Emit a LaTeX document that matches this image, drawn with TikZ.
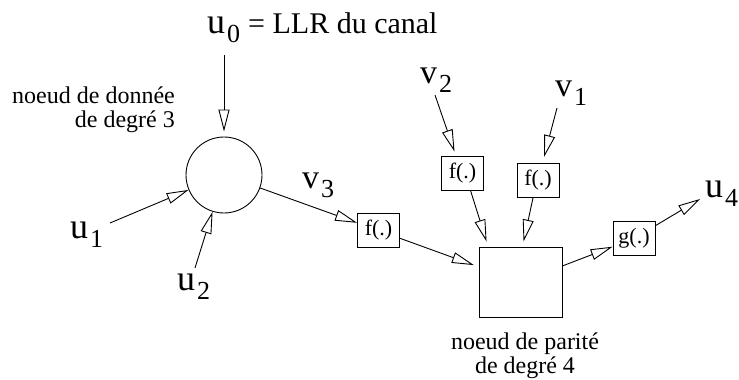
\documentclass[tikz,border=0pt]{standalone}
\usepackage{fontspec}
\setmainfont{Liberation Serif}
\usepackage{tikz}
\usetikzlibrary{arrows.meta,positioning,calc}

% lettre + indice
\newcommand{\lab}[3][36]{{\fontsize{#1}{#1}\selectfont #2}\hspace{2pt}\raisebox{-9pt}{\fontsize{26}{26}\selectfont #3}}

\begin{document}
\begin{tikzpicture}[x=1pt, y=-1pt,
    fleche/.style={-{Triangle[open,length=22pt,width=11pt]}, line width=0.9pt},
    boite/.style={draw, line width=0.9pt, minimum width=42pt, minimum height=34pt, inner sep=0pt, font=\fontsize{22}{22}\selectfont},
    petit/.style={font=\fontsize{24}{24}\selectfont, inner sep=0pt}]
    \useasboundingbox (0,0) rectangle (739,380);

    % Noeud de donnee
    \node[circle, draw, line width=0.9pt, minimum size=76pt, inner sep=0pt] (dn) at (224,175) {};
    \node[petit, anchor=north east, align=right] (tdn) at (175,87) {noeud de donnée\\de degré 3};

    % Entrees du noeud de donnee
    \node[anchor=base west, inner sep=0pt] (u0) at (207,34) {\lab{u}{0}\hspace{8pt}{\fontsize{30}{30}\selectfont = LLR du canal}};
    \node[anchor=base west, inner sep=0pt] (u1) at (70,238) {\lab{u}{1}};
    \node[anchor=base west, inner sep=0pt] (u2) at (177,290) {\lab{u}{2}};
    \coordinate (a0) at (224,55);
    \coordinate (a1) at (110,223);
    \coordinate (a2) at (195,268);
    \draw[fleche, shorten >=5pt] (a0) -- (dn);
    \draw[fleche] (a1) -- (dn);
    \draw[fleche] (a2) -- (dn);

    % Noeud de parite
    \node[draw, line width=0.9pt, minimum width=83pt, minimum height=70pt, inner sep=0pt] (pn) at (520.5,282) {};
    \node[petit, anchor=north, align=center] (tpn) at (525,333) {noeud de parité\\de degré 4};

    % Boites f(.) et g(.)
    \node[boite] (f3) at (378.5,230.5) {f(.)};
    \node[boite] (f2) at (462.5,173) {f(.)};
    \node[boite] (f1) at (538,180.5) {f(.)};
    \node[boite] (g) at (634,238.5) {g(.)};

    % Messages v
    \node[anchor=base west, inner sep=0pt] (v3) at (302,188) {\lab[34]{v}{3}};
    \node[anchor=base west, inner sep=0pt] (v2) at (420,83) {\lab[34]{v}{2}};
    \node[anchor=base west, inner sep=0pt] (v1) at (555,96) {\lab[34]{v}{1}};
    \node[anchor=base west, inner sep=0pt] (u4) at (705,197) {\lab{u}{4}};
    \coordinate (b2) at (435,95);
    \coordinate (b1) at (557,108);
    \coordinate (b4) at (700,199);

    % Fleches
    \draw[fleche] (dn) -- (f3);
    \draw[fleche] (b2) -- ([xshift=-8pt,yshift=4pt]f2.north);
    \draw[fleche] (b1) -- ([xshift=6pt,yshift=6pt]f1.north);
    \draw[fleche, shorten >=5pt] (f3) -- (pn);
    \draw[fleche] ([xshift=8pt]f2.south) -- ([xshift=8pt,yshift=5pt]pn.north west);
    \draw[fleche] ([xshift=-5pt]f1.south) -- ([xshift=45pt,yshift=5pt]pn.north west);
    \draw[fleche] (pn) -- (g);
    \draw[fleche] (g) -- (b4);
\end{tikzpicture}
\end{document}
